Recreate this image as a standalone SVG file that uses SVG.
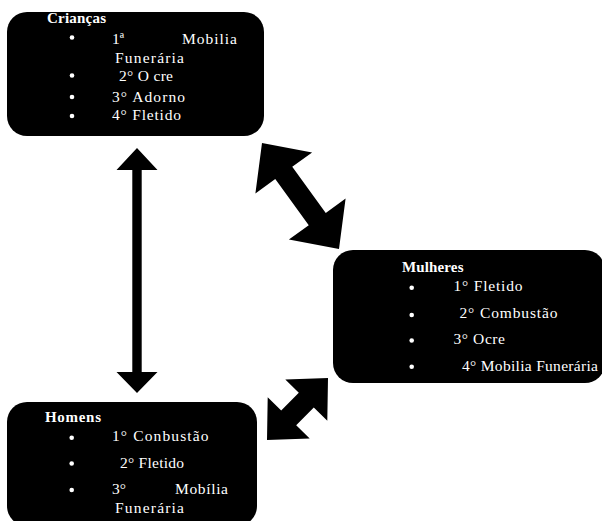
<svg xmlns="http://www.w3.org/2000/svg" width="602" height="521" viewBox="0 0 602 521">
<style>
.box{fill:#000}
.t{font-family:"Liberation Serif","Times New Roman",serif;font-size:15.5px;fill:#fff}
.h{font-family:"Liberation Serif","Times New Roman",serif;font-size:15px;font-weight:bold;fill:#fff}
.b{fill:#fff}
.arr{fill:#000}
</style>
<rect width="602" height="521" fill="#fff"/>
<g id="connectors">
<polygon class="arr" points="137,148 157.5,170 141.7,170 141.7,372 157.5,372 137,393 116.5,372 132.3,372 132.3,170 116.5,170"/>
<polygon class="arr" points="262,143 312.1,152.4 292.25,166.8 325.75,212.9 345.6,198.5 339,249 288.9,239.6 308.75,225.2 275.25,179.1 255.4,193.5"/>
<polygon class="arr" points="267,440 267.7,397.2 281.2,410.5 298.8,392.7 285.3,379.4 328,378 327.3,420.8 313.8,407.5 296.2,425.3 309.7,438.6"/>
</g>
<g id="criancas">
<rect class="box" x="7" y="12" width="257" height="124" rx="20"/>
<text class="h" x="47" y="22.5" textLength="59">Crianças</text>
<circle class="b" cx="72" cy="37.5" r="2.3"/>
<text class="t" x="112" y="44">1ª</text>
<text class="t" x="182" y="44" textLength="55">Mobilia</text>
<text class="t" x="115" y="63" textLength="69">Funerária</text>
<circle class="b" cx="72" cy="75.5" r="2.3"/>
<text class="t" x="119" y="81" textLength="54">2° O cre</text>
<circle class="b" cx="72" cy="97" r="2.3"/>
<text class="t" x="112" y="101.5" textLength="73">3° Adorno</text>
<circle class="b" cx="72" cy="116" r="2.3"/>
<text class="t" x="112" y="119.5" textLength="69">4° Fletido</text>
</g>
<g id="mulheres">
<rect class="box" x="333" y="250" width="272" height="133" rx="20"/>
<text class="h" x="402" y="272" textLength="61.5">Mulheres</text>
<circle class="b" cx="411.7" cy="287.7" r="2.3"/>
<text class="t" x="453.5" y="290.5" textLength="69">1° Fletido</text>
<circle class="b" cx="411.7" cy="315" r="2.3"/>
<text class="t" x="459.5" y="317.5" textLength="98">2° Combustão</text>
<circle class="b" cx="411.7" cy="340.5" r="2.3"/>
<text class="t" x="453.5" y="344" textLength="51.5">3° Ocre</text>
<circle class="b" cx="411.7" cy="366.7" r="2.3"/>
<text class="t" x="462" y="371" textLength="136">4° Mobilia Funerária</text>
</g>
<g id="homens">
<rect class="box" x="7" y="402" width="250" height="124" rx="20"/>
<text class="h" x="45" y="421.5" textLength="56">Homens</text>
<circle class="b" cx="71.7" cy="437.7" r="2.3"/>
<text class="t" x="112" y="440.5" textLength="96.5">1° Conbustão</text>
<circle class="b" cx="71.7" cy="463.5" r="2.3"/>
<text class="t" x="120" y="467.5" textLength="64">2° Fletido</text>
<circle class="b" cx="71.7" cy="490" r="2.3"/>
<text class="t" x="112" y="494">3°</text>
<text class="t" x="175" y="494" textLength="53">Mobília</text>
<text class="t" x="115" y="513" textLength="69">Funerária</text>
</g>
</svg>
